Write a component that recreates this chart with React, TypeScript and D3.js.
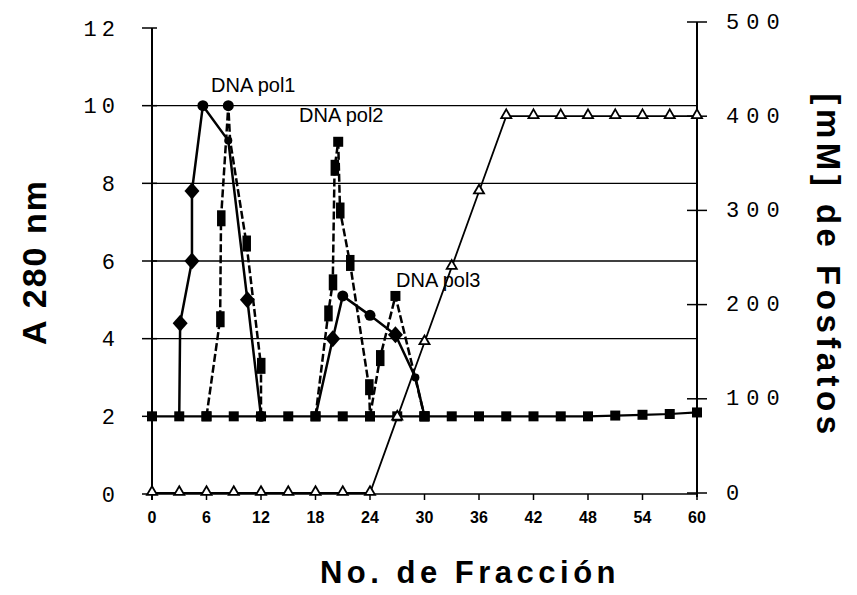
import React from 'react';
import * as d3 from 'd3';

// fraction numbers sampled every 3 tubes (baseline + phosphate gradient)
const fractions = [0, 3, 6, 9, 12, 15, 18, 21, 24, 27, 30, 33, 36, 39, 42, 45, 48, 51, 54, 57, 60];
const baselineA280 = [2.0, 2.0, 2.0, 2.0, 2.0, 2.0, 2.0, 2.0, 2.0, 2.0, 2.0, 2.0, 2.0, 2.0, 2.0, 2.0, 2.0, 2.02, 2.04, 2.06, 2.1];
const phosphateMM = [0, 0, 0, 0, 0, 0, 0, 0, 0, 80, 160, 240, 320, 400, 400, 400, 400, 400, 400, 400, 400];

// peak profiles (fraction, A280, marker)
const pol1aFrac = [3, 3.1, 4.4, 4.4, 5.6, 8.4, 10.5, 12];
const pol1aVal = [2, 4.4, 6.0, 7.8, 10.0, 9.1, 5.0, 2];
const pol1aMark = ['none', 'diamond', 'diamond', 'diamond', 'circle', 'dot', 'diamond', 'circle'];

const pol1bFrac = [6, 7.5, 7.6, 8.4, 8.6, 10.4, 12, 12];
const pol1bVal = [2, 4.5, 7.1, 10.0, 9.1, 6.45, 3.3, 2];
const pol1bMark = ['square', 'tall', 'tall', 'circle', 'none', 'tall', 'tall', 'none'];

const pol2aFrac = [18, 19.9, 21.0, 24.0, 26.8, 29.0, 30];
const pol2aVal = [2, 4.0, 5.1, 4.6, 4.1, 3.0, 2];
const pol2aMark = ['square', 'diamond', 'circle', 'circle', 'diamond', 'dot', 'square'];

const pol2bFrac = [18, 19.4, 19.9, 20.1, 20.5, 20.7, 21.8, 23.9, 24];
const pol2bVal = [2, 4.65, 5.45, 8.4, 9.07, 7.3, 5.95, 2.75, 2];
const pol2bMark = ['none', 'tall', 'tall', 'tall', 'square', 'tall', 'tall', 'tall', 'square'];

const pol3Frac = [24, 25.1, 26.8, 30];
const pol3Val = [2, 3.5, 5.1, 2];
const pol3Mark = ['none', 'tall', 'square', 'square'];

const leftTicks = [0, 2, 4, 6, 8, 10, 12];
const rightTicks = [0, 100, 200, 300, 400, 500];
const xTicks = [0, 6, 12, 18, 24, 30, 36, 42, 48, 54, 60];
const gridValues = [4, 6, 8, 10];

const x = d3.scaleLinear().domain([0, 60]).range([152, 697]);
const yL = d3.scaleLinear().domain([0, 12]).range([494, 28]);
const yR = d3.scaleLinear().domain([0, 500]).range([493, 22]);

const lineL = d3.line<[number, number]>().x(d => x(d[0])).y(d => yL(d[1]));
const lineR = d3.line<[number, number]>().x(d => x(d[0])).y(d => yR(d[1]));

const zip = (a: number[], b: number[]) => a.map((v, i) => [v, b[i]] as [number, number]);

function Marker({ cx, cy, kind }: { cx: number; cy: number; kind: string }) {
  switch (kind) {
    case 'square':
      return <rect x={cx - 5} y={cy - 5} width={10} height={10} fill="#000" />;
    case 'tall':
      return <rect x={cx - 4} y={cy - 8} width={8.5} height={16} fill="#000" />;
    case 'diamond':
      return <path d={`M${cx},${cy - 8.5}L${cx + 7.5},${cy}L${cx},${cy + 8.5}L${cx - 7.5},${cy}Z`} fill="#000" />;
    case 'circle':
      return <circle cx={cx} cy={cy} r={5.5} fill="#000" />;
    case 'dot':
      return <circle cx={cx} cy={cy} r={4} fill="#000" />;
    default:
      return null;
  }
}

const peaks = [
  { frac: pol1aFrac, val: pol1aVal, mark: pol1aMark, dash: undefined },
  { frac: pol1bFrac, val: pol1bVal, mark: pol1bMark, dash: '8 3' },
  { frac: pol2aFrac, val: pol2aVal, mark: pol2aMark, dash: undefined },
  { frac: pol2bFrac, val: pol2bVal, mark: pol2bMark, dash: '8 3' },
  { frac: pol3Frac, val: pol3Val, mark: pol3Mark, dash: '8 3' },
];

const tri = d3.symbol(d3.symbolTriangle, 44)();

export default function App() {
  const x0 = x(0), x1 = x(60);
  return (
    <div style={{ position: 'fixed', left: 0, top: 0, width: 857, height: 595, background: '#fff' }}>
      <svg width={857} height={595} style={{ display: 'block' }}>
        <rect width={857} height={595} fill="#fff" />

        {/* grid */}
        {gridValues.map(v => (
          <line key={v} x1={x0} x2={x1} y1={yL(v)} y2={yL(v)} stroke="#000" strokeWidth={1.3} />
        ))}

        {/* left axis */}
        <line x1={x0} x2={x0} y1={yL(12)} y2={yL(0) + 6} stroke="#000" strokeWidth={2} />
        {leftTicks.map(v => (
          <g key={v}>
            <line x1={x0 - 10} x2={x0 + 5} y1={yL(v)} y2={yL(v)} stroke="#000" strokeWidth={1.5} />
            <text x={120} y={yL(v) + 2} textAnchor="end" dominantBaseline="central"
              fontFamily="Liberation Mono, monospace" fontSize={22} letterSpacing={5}>{v}</text>
          </g>
        ))}

        {/* right axis */}
        <line x1={x1} x2={x1} y1={yR(500)} y2={yR(0) + 4} stroke="#000" strokeWidth={2} />
        {rightTicks.map(v => (
          <g key={v}>
            <line x1={x1 - 10} x2={x1 + 10} y1={yR(v)} y2={yR(v)} stroke="#000" strokeWidth={1.5} />
            <text x={726} y={yR(v) + 1} dominantBaseline="central"
              fontFamily="Liberation Mono, monospace" fontSize={22} letterSpacing={7}>{v}</text>
          </g>
        ))}

        {/* x axis */}
        <line x1={x0} x2={x1} y1={yL(0)} y2={yL(0)} stroke="#000" strokeWidth={1.5} />
        {xTicks.map(v => (
          <g key={v}>
            <line x1={x(v)} x2={x(v)} y1={yL(0)} y2={yL(0) + 6} stroke="#000" strokeWidth={1.5} />
            <text x={x(v)} y={523} textAnchor="middle" fontFamily="Liberation Sans, Arial, sans-serif"
              fontWeight="bold" fontSize={16}>{v}</text>
          </g>
        ))}

        {/* phosphate gradient */}
        <path d={lineR(zip(fractions, phosphateMM)) || ''} fill="none" stroke="#000" strokeWidth={1.8} />

        {/* baseline A280 */}
        <path d={lineL(zip(fractions, baselineA280)) || ''} fill="none" stroke="#000" strokeWidth={2.2} />

        {/* peaks */}
        {peaks.map((s, i) => (
          <path key={i} d={lineL(zip(s.frac, s.val)) || ''} fill="none" stroke="#000" strokeWidth={2.5}
            strokeDasharray={s.dash} />
        ))}

        {fractions.map((f, i) => (
          <Marker key={'b' + i} cx={x(f)} cy={yL(baselineA280[i])} kind="square" />
        ))}
        {peaks.map((s, i) => s.frac.map((f, j) => (
          <Marker key={i + '-' + j} cx={x(f)} cy={yL(s.val[j])} kind={s.mark[j]} />
        )))}
        {fractions.map((f, i) => (
          <path key={'t' + i} d={tri || ''} transform={`translate(${x(f)},${yR(phosphateMM[i]) - 1})`}
            fill="#fff" stroke="#000" strokeWidth={1.8} />
        ))}

        {/* annotations */}
        <g fontFamily="Liberation Sans, Arial, sans-serif" fontSize={20} fill="#000">
          <text x={211} y={92}>DNA pol1</text>
          <text x={299} y={122}>DNA pol2</text>
          <text x={396} y={287}>DNA pol3</text>
        </g>

        {/* axis titles */}
        <text transform="translate(34,262) rotate(-90)" textAnchor="middle" dominantBaseline="central"
          fontFamily="Liberation Sans, Arial, sans-serif" fontWeight="bold" fontSize={34} letterSpacing={2}>A 280 nm</text>
        <text transform="translate(828,266) rotate(90)" textAnchor="middle" dominantBaseline="central"
          fontFamily="Liberation Sans, Arial, sans-serif" fontWeight="bold" fontSize={33} letterSpacing={4.5}>[mM] de Fosfatos</text>
        <text x={470} y={583} textAnchor="middle"
          fontFamily="Liberation Sans, Arial, sans-serif" fontWeight="bold" fontSize={31} letterSpacing={4.5}>No. de Fracción</text>
      </svg>
    </div>
  );
}
